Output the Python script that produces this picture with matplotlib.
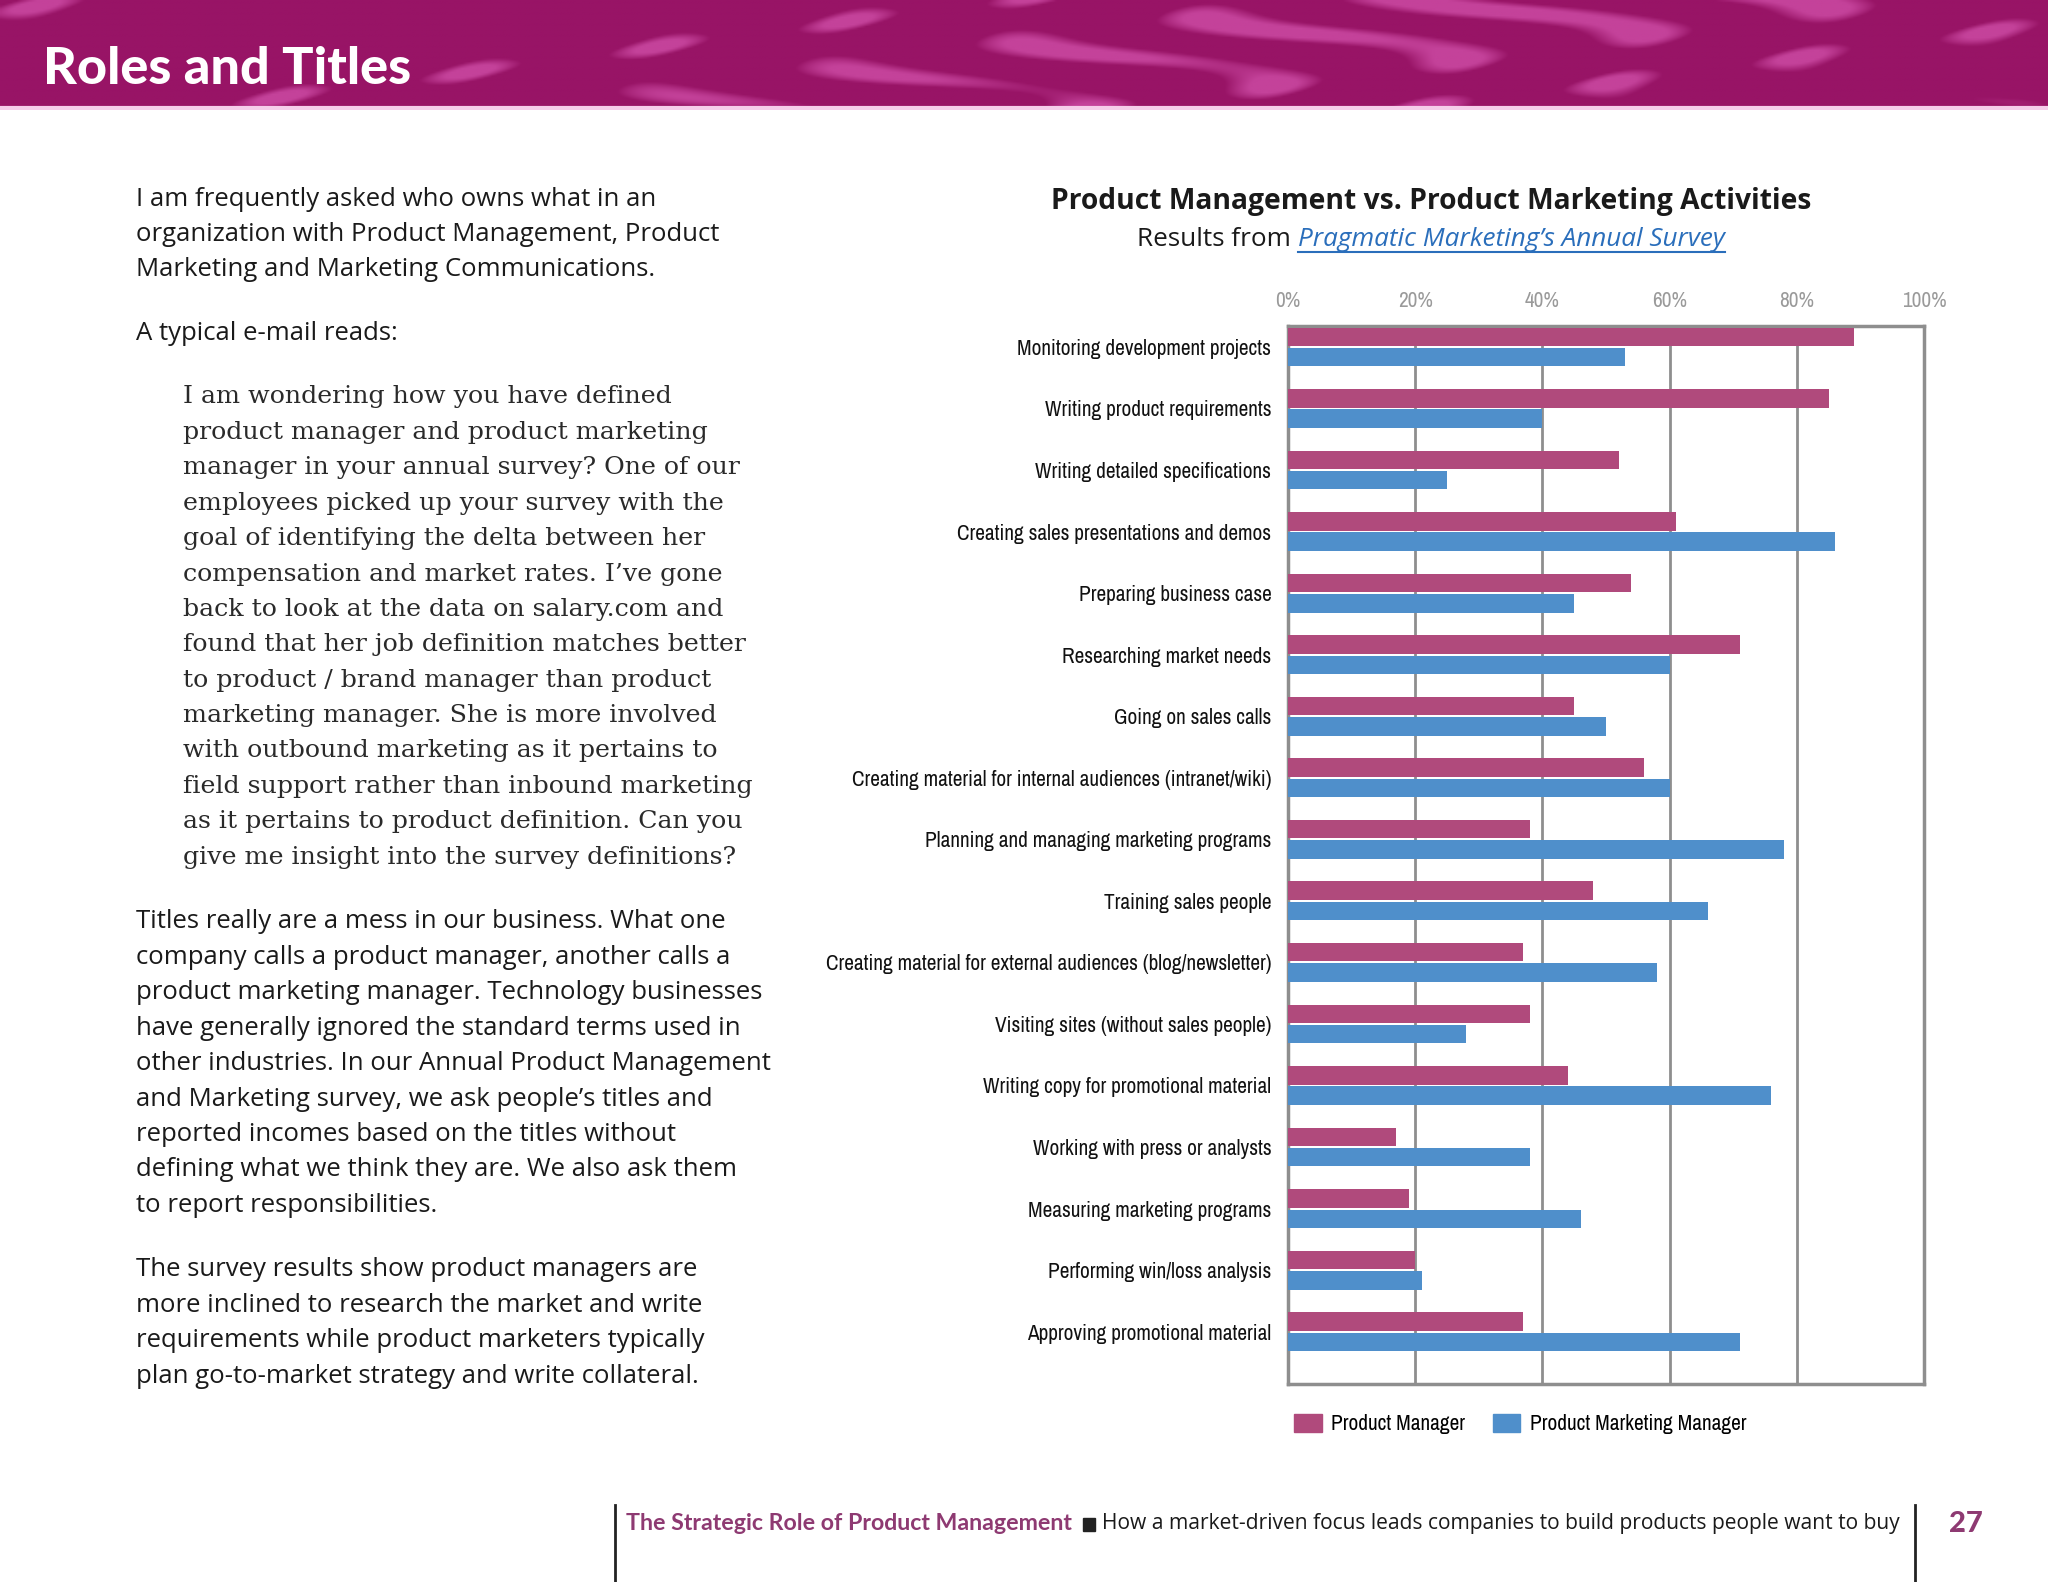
import numpy as np
import matplotlib
matplotlib.use("Agg")
import matplotlib.pyplot as plt
from matplotlib import font_manager
from matplotlib.patches import Patch, Rectangle
from matplotlib.colors import LinearSegmentedColormap

W, H = 2048, 1582

activities = [
    "Monitoring development projects",
    "Writing product requirements",
    "Writing detailed specifications",
    "Creating sales presentations and demos",
    "Preparing business case",
    "Researching market needs",
    "Going on sales calls",
    "Creating material for internal audiences (intranet/wiki)",
    "Planning and managing marketing programs",
    "Training sales people",
    "Creating material for external audiences (blog/newsletter)",
    "Visiting sites (without sales people)",
    "Writing copy for promotional material",
    "Working with press or analysts",
    "Measuring marketing programs",
    "Performing win/loss analysis",
    "Approving promotional material",
]
pm_pct = [89, 85, 52, 61, 54, 71, 45, 56, 38, 48, 37, 38, 44, 17, 19, 20, 37]
pmm_pct = [53, 40, 25, 86, 45, 60, 50, 60, 78, 66, 58, 28, 76, 38, 46, 21, 71]
series = ["Product Manager", "Product Marketing Manager"]
xticks = [0, 20, 40, 60, 80, 100]

PM_COL = "#b04a7c"
PMM_COL = "#4f8fcb"
GRID_COL = "#8e8e8e"
MAGENTA = "#8e3a72"

# pick a narrow font for the chart labels if one is installed
flist = font_manager.fontManager.ttflist
fams = {f.name for f in flist}
narrow = None
for f in flist:
    if "Narrow" in f.name or "Condensed" in f.name:
        narrow = dict(family=f.name)
        break
if narrow is None:
    for f in flist:
        if f.stretch in ("condensed", "semi-condensed", "extra-condensed"):
            narrow = dict(family=f.name, stretch=f.stretch)
            break
lab_size = 15.3
if narrow is None:
    narrow = dict(family="Liberation Sans" if "Liberation Sans" in fams else "DejaVu Sans")
    lab_size = 13

body_font = "Open Sans" if "Open Sans" in fams else "DejaVu Sans"
serif_font = "DejaVu Serif"


def fx(x):
    return x / W


def fy(y):
    return 1 - y / H


fig = plt.figure(figsize=(W / 100, H / 100), dpi=100)
fig.patch.set_facecolor("white")

# banner
bax = fig.add_axes([0, fy(110), 1, 110 / H])
xx, yy = np.meshgrid(np.linspace(0, 40, 800), np.linspace(0, 3, 60))
tex = np.sin(xx * 0.9 + 2.2 * np.sin(yy * 1.7 + xx * 0.3)) * np.cos(yy * 2.1 - xx * 0.45)
tex = np.clip((tex - 0.45) * 2.5, 0, 1)
cmap = LinearSegmentedColormap.from_list("ban", ["#981466", "#c4429a"])
bax.imshow(tex, cmap=cmap, aspect="auto", extent=[0, 1, 0, 1], interpolation="bilinear")
bax.axhline(0.015, color="#f6cdea", lw=3)
bax.set_xlim(0, 1)
bax.set_ylim(0, 1)
bax.axis("off")
fig.text(fx(43), fy(70), "Roles and Titles", color="white", fontsize=37.5,
         fontweight="black", family="Lato", va="center", ha="left")

# left column text
p1 = ["I am frequently asked who owns what in an",
      "organization with Product Management, Product",
      "Marketing and Marketing Communications."]
quote = ["I am wondering how you have defined",
         "product manager and product marketing",
         "manager in your annual survey? One of our",
         "employees picked up your survey with the",
         "goal of identifying the delta between her",
         "compensation and market rates. I\u2019ve gone",
         "back to look at the data on salary.com and",
         "found that her job definition matches better",
         "to product / brand manager than product",
         "marketing manager. She is more involved",
         "with outbound marketing as it pertains to",
         "field support rather than inbound marketing",
         "as it pertains to product definition. Can you",
         "give me insight into the survey definitions?"]
p3 = ["Titles really are a mess in our business. What one",
      "company calls a product manager, another calls a",
      "product marketing manager. Technology businesses",
      "have generally ignored the standard terms used in",
      "other industries. In our Annual Product Management",
      "and Marketing survey, we ask people\u2019s titles and",
      "reported incomes based on the titles without",
      "defining what we think they are. We also ask them",
      "to report responsibilities."]
p4 = ["The survey results show product managers are",
      "more inclined to research the market and write",
      "requirements while product marketers typically",
      "plan go-to-market strategy and write collateral."]

lead = 35.4
blocks = [(p1, 136, 199, body_font, 18.5, "#1a1a1a"),
          (["A typical e-mail reads:"], 136, 333, body_font, 18.5, "#1a1a1a"),
          (quote, 183, 397, serif_font, 18.2, "#2a2a2a"),
          (p3, 136, 922, body_font, 18.5, "#1a1a1a"),
          (p4, 136, 1270, body_font, 18.5, "#1a1a1a")]
for lines, x0, y0, fam, fs, col in blocks:
    for i, ln in enumerate(lines):
        fig.text(fx(x0), fy(y0 + i * lead), ln, family=fam, fontsize=fs,
                 color=col, va="center", ha="left")

# chart
ax = fig.add_axes([fx(1288), fy(1384), (1924 - 1288) / W, (1384 - 326) / H])
y = np.arange(len(activities))
ax.barh(y - 0.165, pm_pct, height=0.30, color=PM_COL, label=series[0], zorder=3)
ax.barh(y + 0.165, pmm_pct, height=0.30, color=PMM_COL, label=series[1], zorder=3)
ax.set_xlim(0, 100)
ax.set_ylim(16.85, -0.34)
ax.set_xticks(xticks)
ax.set_xticklabels([f"{v}%" for v in xticks], color="#9a9a9a", fontsize=lab_size, **narrow)
ax.xaxis.tick_top()
ax.set_yticks(y)
ax.set_yticklabels(activities, fontsize=lab_size, color="#111111", **narrow)
ax.tick_params(axis="both", length=0)
ax.tick_params(axis="x", pad=11)
ax.tick_params(axis="y", pad=12)
ax.grid(axis="x", color=GRID_COL, lw=2, zorder=1)
for s in ax.spines.values():
    s.set_color(GRID_COL)
    s.set_linewidth(2.5)

handles = [Patch(color=PM_COL, label=series[0]), Patch(color=PMM_COL, label=series[1])]
fig.legend(handles=handles, loc="center left", bbox_to_anchor=(fx(1294), fy(1424)),
           ncol=2, frameon=False, handlelength=1.3, handleheight=0.9,
           columnspacing=1.3, handletextpad=0.45, borderpad=0, borderaxespad=0,
           prop=dict(size=lab_size, **narrow))

# chart titles
fig.text(fx(1431), fy(201), "Product Management vs. Product Marketing Activities",
         family=body_font, fontsize=20.3, fontweight="bold", ha="center", va="center",
         color="#1a1a1a")
t1 = fig.text(fx(1137), fy(239), "Results from ", family=body_font, fontsize=18.8,
              ha="left", va="center", color="#1a1a1a")
fig.canvas.draw()
bb = t1.get_window_extent()
t2 = fig.text(bb.x1 / W, fy(239), "Pragmatic Marketing\u2019s Annual Survey", family=body_font,
              fontsize=18.8, style="italic", ha="left", va="center", color="#2a6ebb")
fig.canvas.draw()
bb2 = t2.get_window_extent()
fig.add_artist(plt.Line2D([bb2.x0 / W, bb2.x1 / W], [fy(252), fy(252)], color="#2a6ebb", lw=1.5))

# footer
for xv in (615, 1915):
    fig.add_artist(plt.Line2D([fx(xv), fx(xv)], [fy(1505), 0], color="#222222", lw=2))
f1 = fig.text(fx(626), fy(1524), "The Strategic Role of Product Management", family="Lato",
              fontsize=16.7, fontweight="bold", color=MAGENTA, ha="left", va="center")
fig.canvas.draw()
b = f1.get_window_extent()
fig.add_artist(Rectangle((fx(b.x1 + 11), fy(1531)), 12 / W, 13 / H, color="#222222",
                         transform=fig.transFigure))
fig.text(fx(b.x1 + 30), fy(1524),
         "How a market-driven focus leads companies to build products people want to buy",
         family=body_font, fontsize=15.1, color="#1a1a1a", ha="left", va="center")
fig.text(fx(1966), fy(1524), "27", family="Lato", fontsize=21, fontweight="black",
         color=MAGENTA, ha="center", va="center")

fig.savefig("out.png", dpi=100)
